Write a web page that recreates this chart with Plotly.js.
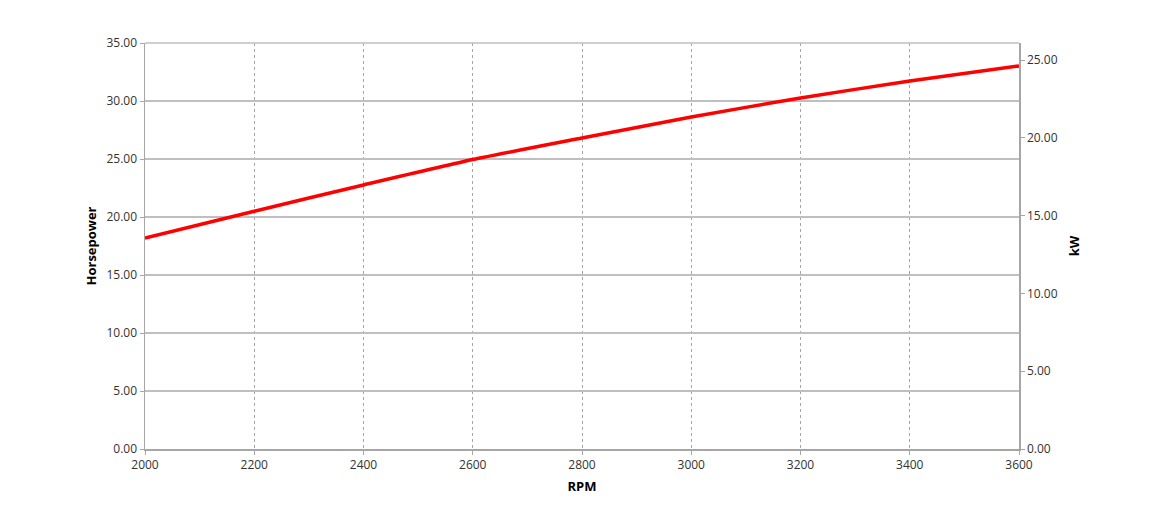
<!DOCTYPE html>
<html>
<head>
<meta charset="utf-8">
<script src="https://cdn.plot.ly/plotly-3.0.1.min.js"></script>
<style>html,body{margin:0;padding:0;background:#fff;}#chart{width:1170px;height:524px;}</style>
</head>
<body>
<div id="chart"></div>
<script>
const rpm = [2000, 2200, 2400, 2600, 2800, 3000, 3200, 3400, 3600];
const horsepower = [18.19, 20.50, 22.76, 24.95, 26.81, 28.62, 30.26, 31.72, 33.02];
const HP_TO_KW = 0.7457;
const kw = horsepower.map(v => v * HP_TO_KW);

const font = "Open Sans, Liberation Sans, sans-serif";
const gridc = '#bfbfbf';

const traces = [
  {x: rpm, y: horsepower, type: 'scatter', mode: 'lines', line: {color: '#ff0000', width: 3.5, shape: 'spline', smoothing: 0.6}, hoverinfo: 'x+y', showlegend: false},
  {x: rpm, y: kw, type: 'scatter', mode: 'lines', yaxis: 'y2', line: {color: 'rgba(0,0,0,0)', width: 0}, hoverinfo: 'skip', showlegend: false}
];

const layout = {
  width: 1170, height: 524,
  margin: {l: 145, r: 151, t: 43, b: 75},
  paper_bgcolor: '#fff', plot_bgcolor: '#fff',
  font: {family: font, size: 12, color: '#333'},
  showlegend: false,
  xaxis: {
    range: [2000, 3600], dtick: 200, tick0: 2000,
    showgrid: true, gridcolor: '#a6a6a6', griddash: '3px,3px', gridwidth: 1,
    zeroline: false, showline: true, linecolor: '#a6a6a6', linewidth: 1.5,
    ticks: 'outside', ticklen: 4, tickcolor: '#a6a6a6',
    tickfont: {size: 12, color: '#333'},
    title: {text: '<b>RPM</b>', font: {size: 13, color: '#000'}, standoff: 10}
  },
  yaxis: {
    range: [0, 35], dtick: 5, tickformat: '.2f',
    showgrid: true, gridcolor: gridc, gridwidth: 1.3,
    zeroline: false, showline: true, linecolor: '#a6a6a6', linewidth: 1.5,
    ticks: 'outside', ticklen: 4, tickcolor: '#a6a6a6',
    tickfont: {size: 12, color: '#333'},
    title: {text: '<b>Horsepower</b>', font: {size: 13, color: '#000'}, standoff: 7}
  },
  yaxis2: {
    overlaying: 'y', side: 'right',
    range: [0, 35 * HP_TO_KW], dtick: 5, tickformat: '.2f',
    showgrid: false, zeroline: false, showline: true, linecolor: '#a6a6a6', linewidth: 1.5,
    ticks: 'outside', ticklen: 4, tickcolor: '#a6a6a6',
    tickfont: {size: 12, color: '#333'},
    title: {text: '<b>kW</b>', font: {size: 13, color: '#000'}, standoff: 13}
  },
  shapes: [
    {type: 'line', xref: 'paper', yref: 'paper', x0: 0, x1: 1, y0: 1, y1: 1, line: {color: gridc, width: 1.3}}
  ]
};

Plotly.newPlot('chart', traces, layout, {displayModeBar: false, staticPlot: true});
</script>
</body>
</html>
